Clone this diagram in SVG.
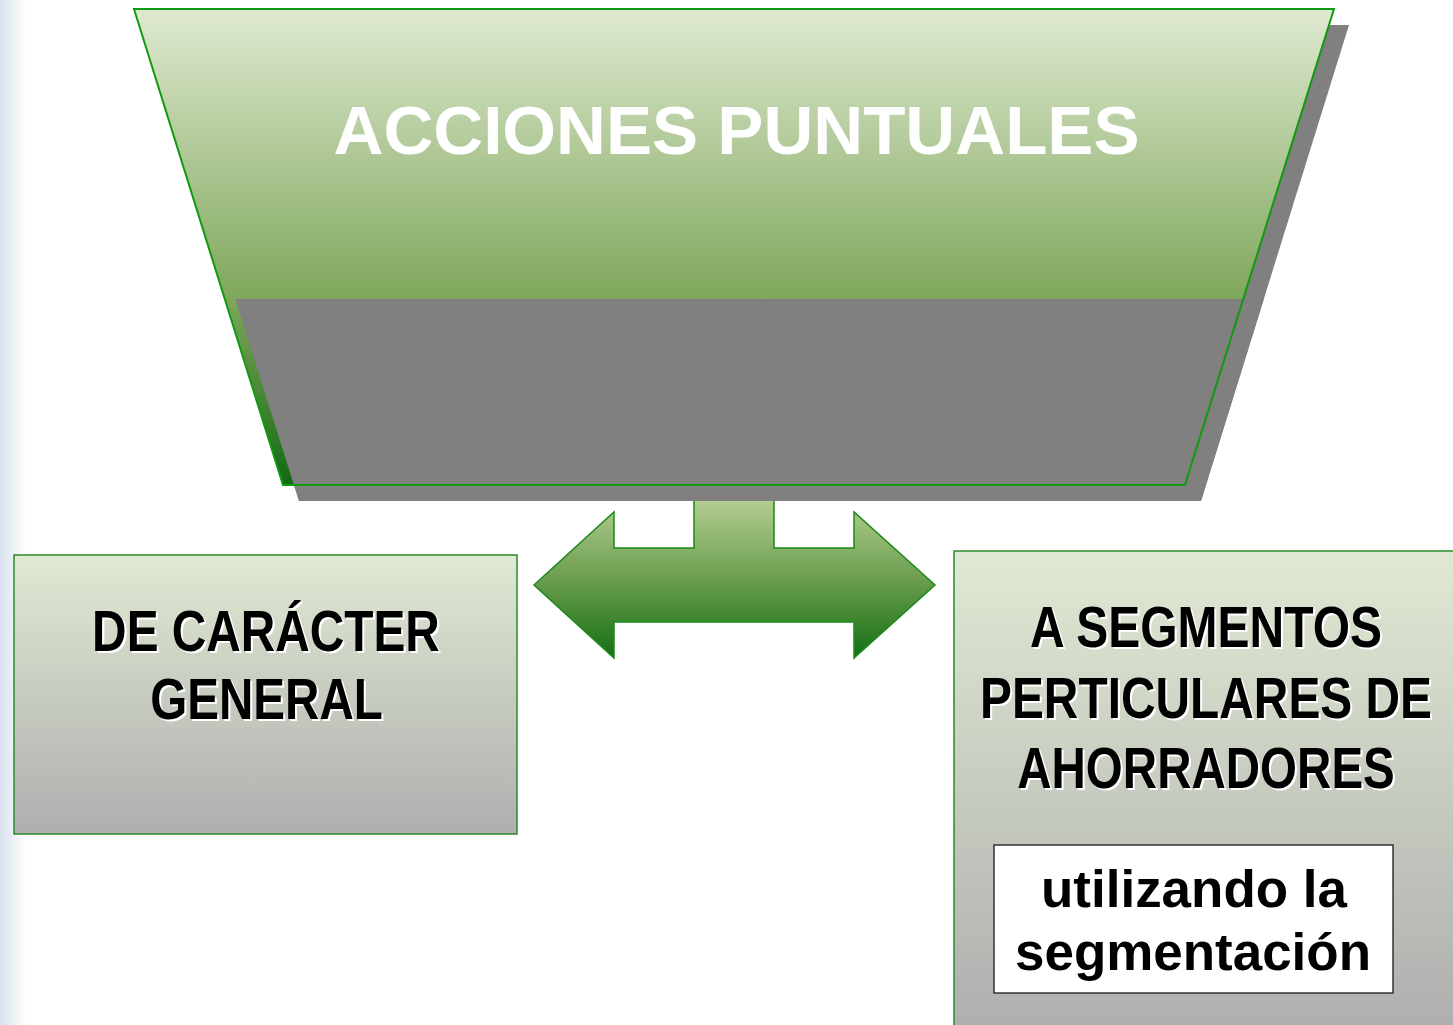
<svg xmlns="http://www.w3.org/2000/svg" width="1453" height="1025" viewBox="0 0 1453 1025">
<defs>
<linearGradient id="edge" x1="0" y1="0" x2="1" y2="0">
<stop offset="0" stop-color="#d7e1ed"/>
<stop offset="1" stop-color="#ffffff"/>
</linearGradient>
<linearGradient id="trap" gradientUnits="userSpaceOnUse" x1="0" y1="9" x2="0" y2="485">
<stop offset="0" stop-color="#dfe9d1"/>
<stop offset="0.61" stop-color="#7fa75b"/>
<stop offset="1" stop-color="#126a12"/>
</linearGradient>
<linearGradient id="arr" gradientUnits="userSpaceOnUse" x1="0" y1="501" x2="0" y2="658">
<stop offset="0" stop-color="#b2cd90"/>
<stop offset="0.5" stop-color="#6b9d4e"/>
<stop offset="1" stop-color="#136f13"/>
</linearGradient>
<linearGradient id="box" x1="0" y1="0" x2="0" y2="1">
<stop offset="0" stop-color="#dfe9d2"/>
<stop offset="1" stop-color="#afafaf"/>
</linearGradient>
<style>
.lbl{font-family:"Liberation Sans",Arial,sans-serif;font-weight:bold;text-anchor:middle}
.big{font-size:57px}
.fg{fill:#000000}
.sh{fill:#ffffff}
.boxr{fill:url(#box);stroke:#2a8a2a;stroke-width:1.5}
</style>
</defs>
<rect x="0" y="0" width="1453" height="1025" fill="#ffffff"/>
<rect x="0" y="0" width="26" height="1025" fill="url(#edge)"/>

<g id="connectors">
<polygon points="534,585 614,512 614,548 694,548 694,495 774,495 774,548 854,548 854,512 935,585 854,658 854,622 614,622 614,658" fill="url(#arr)" stroke="#1a8a1a" stroke-width="1.5" stroke-linejoin="miter"/>
</g>

<g id="acciones-puntuales">
<polygon points="149,25 1349,25 1201,501 299,501" fill="#808080"/>
<polygon points="134,9 1334,9 1185,485 283,485" fill="url(#trap)"/>
<polygon points="235.3,299 1263.8,299 1201,501 299,501" fill="#808080"/>
<polygon points="134,9 1334,9 1185,485 283,485" fill="none" stroke="#109a10" stroke-width="2"/>
<text class="lbl" x="736.5" y="154" font-size="68" fill="#ffffff" textLength="806" lengthAdjust="spacingAndGlyphs">ACCIONES PUNTUALES</text>
</g>

<g id="de-caracter-general">
<rect class="boxr" x="14" y="555" width="503" height="279"/>
<g transform="translate(266,651) scale(0.84,1)">
<text class="lbl big sh" x="2.4" y="2" textLength="414" lengthAdjust="spacingAndGlyphs">DE CARÁCTER</text>
<text class="lbl big fg" x="0" y="0" textLength="414" lengthAdjust="spacingAndGlyphs">DE CARÁCTER</text>
</g>
<g transform="translate(266.5,719) scale(0.84,1)">
<text class="lbl big sh" x="2.4" y="2" textLength="277" lengthAdjust="spacingAndGlyphs">GENERAL</text>
<text class="lbl big fg" x="0" y="0" textLength="277" lengthAdjust="spacingAndGlyphs">GENERAL</text>
</g>
</g>

<g id="a-segmentos">
<rect x="954" y="551" width="499" height="474" fill="url(#box)"/>
<path d="M954,1025 V551 H1453" fill="none" stroke="#2a8a2a" stroke-width="1.5"/>
<g transform="translate(1206,647) scale(0.8,1)">
<text class="lbl big sh" x="2.5" y="2" textLength="440" lengthAdjust="spacingAndGlyphs">A SEGMENTOS</text>
<text class="lbl big fg" x="0" y="0" textLength="440" lengthAdjust="spacingAndGlyphs">A SEGMENTOS</text>
</g>
<g transform="translate(1206,718) scale(0.8,1)">
<text class="lbl big sh" x="2.5" y="2" textLength="565" lengthAdjust="spacingAndGlyphs">PERTICULARES DE</text>
<text class="lbl big fg" x="0" y="0" textLength="565" lengthAdjust="spacingAndGlyphs">PERTICULARES DE</text>
</g>
<g transform="translate(1206,788) scale(0.8,1)">
<text class="lbl big sh" x="2.5" y="2" textLength="472" lengthAdjust="spacingAndGlyphs">AHORRADORES</text>
<text class="lbl big fg" x="0" y="0" textLength="472" lengthAdjust="spacingAndGlyphs">AHORRADORES</text>
</g>
</g>

<g id="utilizando-segmentacion">
<rect x="994" y="845" width="399" height="148" fill="#ffffff" stroke="#333333" stroke-width="1.5"/>
<text class="lbl fg" x="1194" y="907" font-size="51" textLength="306" lengthAdjust="spacingAndGlyphs">utilizando la</text>
<text class="lbl fg" x="1193" y="970" font-size="51" textLength="356" lengthAdjust="spacingAndGlyphs">segmentación</text>
</g>
</svg>
